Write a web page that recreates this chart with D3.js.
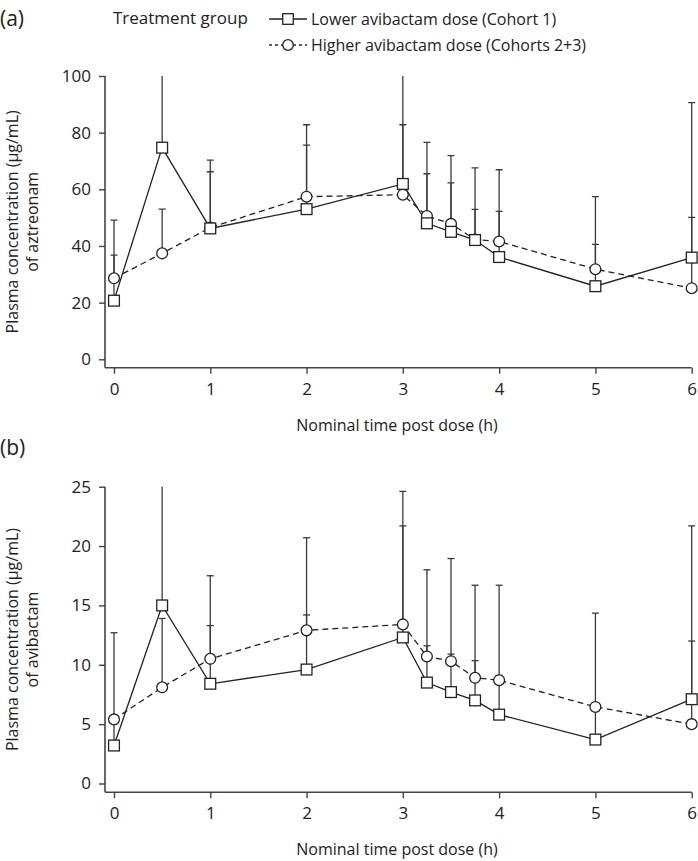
<!DOCTYPE html>
<html>
<head>
<meta charset="utf-8">
<script src="https://cdn.jsdelivr.net/npm/d3@7"></script>
<style>
  html, body { margin: 0; padding: 0; background: #fff; }
  svg text { font-family: "Open Sans", sans-serif; fill: #222; }
</style>
</head>
<body>
<svg id="chart"></svg>
<script>
// nominal sampling times (h)
const times = [0, 0.5, 1, 2, 3, 3.25, 3.5, 3.75, 4, 5, 6]
const xTicks = [0, 1, 2, 3, 4, 5, 6]

// (a) aztreonam, µg/mL — mean and mean+SD
const aztLowMean = [20.7, 74.7, 46.2, 53.0, 61.9, 48.0, 45.0, 42.1, 36.1, 25.8, 35.9]
const aztLowUpper = [49.1, 115, 70.3, 82.8, 115, 76.6, 71.9, 67.6, 66.9, 57.4, 90.6]
const aztHighMean = [28.6, 37.4, 46.5, 57.4, 58.1, 50.6, 47.8, 42.3, 41.6, 31.8, 25.1]
const aztHighUpper = [36.8, 53.0, 66.2, 75.6, 82.8, 65.5, 62.3, 52.9, 52.2, 40.6, 50.1]
const aztTicks = [0, 20, 40, 60, 80, 100]

// (b) avibactam, µg/mL — mean and mean+SD
const avbLowMean = [3.2, 15.0, 8.4, 9.6, 12.3, 8.5, 7.7, 7.0, 5.8, 3.7, 7.1]
const avbLowUpper = [12.7, 27, 17.5, 20.7, 24.6, 18.0, 18.95, 16.7, 16.7, 14.35, 21.7]
const avbHighMean = [5.4, 8.1, 10.5, 12.9, 13.4, 10.7, 10.3, 8.9, 8.7, 6.45, 5.0]
const avbHighUpper = [5.7, 13.9, 13.3, 14.2, 21.7, 11.6, 10.9, 10.35, 9.1, 6.8, 12.0]
const avbTicks = [0, 5, 10, 15, 20, 25]

const groupLabels = ["Lower avibactam dose (Cohort 1)", "Higher avibactam dose (Cohorts 2+3)"]

const W = 698
const H = 861
const ink = "#222"
const axisInk = "#444"

const svg = d3.select("#chart").attr("width", W).attr("height", H)

const x = d3.scaleLinear().domain([0, 6]).range([114, 691.7])
const axisLeftX = 105

// legend
svg.append("text").attr("x", 0).attr("y", 26).style("font-size", "21px").text("(a)")
svg.append("text").attr("x", 113).attr("y", 24).style("font-size", "17px").text("Treatment group")

const legend = svg.append("g")
groupLabels.forEach((label, i) => {
  const cy = 19 + i * 26
  legend.append("line")
    .attr("x1", 269).attr("x2", 307).attr("y1", cy).attr("y2", cy)
    .attr("stroke", ink).attr("stroke-width", 1.3)
    .attr("stroke-dasharray", i ? "3,3" : null)
  if (i) {
    legend.append("circle").attr("cx", 288).attr("cy", cy).attr("r", 5.3)
      .attr("fill", "#fff").attr("stroke", ink).attr("stroke-width", 1.3)
  } else {
    legend.append("rect").attr("x", 288 - 5.3).attr("y", cy - 5.3).attr("width", 10.6).attr("height", 10.6)
      .attr("fill", "#fff").attr("stroke", ink).attr("stroke-width", 1.3)
  }
  legend.append("text").attr("x", 311).attr("y", cy + 6).style("font-size", "16px").text(label)
})

/**
 * One panel: axes, lines, SD bars and markers
 */
function drawPanel(cfg) {
  const y = d3.scaleLinear().domain([0, cfg.ticks[cfg.ticks.length - 1]]).range(cfg.yRange)
  const g = svg.append("g")

  const clipId = "clip-" + cfg.id
  g.append("clipPath").attr("id", clipId)
    .append("rect")
    .attr("x", 0).attr("y", cfg.yRange[1])
    .attr("width", W).attr("height", cfg.axisY - cfg.yRange[1])

  // y axis
  const yAxis = g.append("g")
    .attr("transform", `translate(${axisLeftX},0)`)
    .call(d3.axisLeft(y).tickValues(cfg.ticks).tickFormat(d3.format("d")).tickSize(6).tickPadding(8).tickSizeOuter(0))
  yAxis.select(".domain").remove()
  yAxis.append("line").attr("y1", cfg.yRange[1]).attr("y2", cfg.axisY)
  // x axis
  const xAxis = g.append("g")
    .attr("transform", `translate(0,${cfg.axisY})`)
    .call(d3.axisBottom(x).tickValues(xTicks).tickFormat(d3.format("d")).tickSize(6).tickPadding(9).tickSizeOuter(0))
  xAxis.select(".domain").remove()
  xAxis.append("line").attr("x1", axisLeftX).attr("x2", x(6))

  g.selectAll(".tick line").attr("stroke", axisInk).attr("stroke-width", 1.4)
  yAxis.select(":scope > line").attr("stroke", axisInk).attr("stroke-width", 1.6)
  xAxis.select(":scope > line").attr("stroke", axisInk).attr("stroke-width", 1.6)
  g.selectAll(".tick text").style("font-size", "17px").attr("fill", ink)

  // axis titles
  const midY = (cfg.yRange[1] + cfg.axisY) / 2
  const yTitle = g.append("text")
    .attr("transform", `translate(18,${midY}) rotate(-90)`)
    .attr("text-anchor", "middle").style("font-size", "16px")
  yTitle.append("tspan").attr("x", 0).attr("dy", 0).text("Plasma concentration (µg/mL)")
  yTitle.append("tspan").attr("x", 0).attr("dy", 20).text(cfg.drug)

  g.append("text").attr("x", 397).attr("y", cfg.axisY + 63)
    .attr("text-anchor", "middle").style("font-size", "16px")
    .text("Nominal time post dose (h)")

  const series = [
    { mean: cfg.high, upper: cfg.highUpper, dash: "6,4", shape: "circle" },
    { mean: cfg.low, upper: cfg.lowUpper, dash: null, shape: "square" },
  ]

  const line = d3.line().x((d) => x(d.t)).y((d) => y(d.v))
  const plot = g.append("g").attr("clip-path", `url(#${clipId})`)

  series.forEach((s) => {
    const pts = times.map((t, i) => ({ t, v: s.mean[i] }))
    plot.append("path").datum(pts)
      .attr("d", line).attr("fill", "none")
      .attr("stroke", ink).attr("stroke-width", 1.3)
      .attr("stroke-dasharray", s.dash)
  })

  // SD bars, drawn upward only
  series.forEach((s) => {
    const bars = times.map((t, i) => ({ t, lo: s.mean[i], hi: s.upper[i] }))
    const eb = plot.append("g").attr("stroke", "#3a3a3a").attr("stroke-width", 1.3)
    eb.selectAll(".bar").data(bars).join("line")
      .attr("x1", (d) => x(d.t)).attr("x2", (d) => x(d.t))
      .attr("y1", (d) => y(d.lo)).attr("y2", (d) => y(d.hi))
    eb.selectAll(".cap").data(bars).join("line")
      .attr("x1", (d) => x(d.t) - 3.5).attr("x2", (d) => x(d.t) + 3.5)
      .attr("y1", (d) => y(d.hi)).attr("y2", (d) => y(d.hi))
  })

  series.forEach((s) => {
    const pts = times.map((t, i) => ({ t, v: s.mean[i] }))
    if (s.shape === "circle") {
      g.selectAll(null).data(pts).join("circle")
        .attr("cx", (d) => x(d.t)).attr("cy", (d) => y(d.v)).attr("r", 5.4)
        .attr("fill", "#fff").attr("stroke", ink).attr("stroke-width", 1.3)
    } else {
      g.selectAll(null).data(pts).join("rect")
        .attr("x", (d) => x(d.t) - 5.4).attr("y", (d) => y(d.v) - 5.4)
        .attr("width", 10.8).attr("height", 10.8)
        .attr("fill", "#fff").attr("stroke", ink).attr("stroke-width", 1.3)
    }
  })
}

drawPanel({
  id: "a", drug: "of aztreonam", ticks: aztTicks,
  yRange: [359.3, 76], axisY: 367.7,
  low: aztLowMean, lowUpper: aztLowUpper, high: aztHighMean, highUpper: aztHighUpper,
})

svg.append("text").attr("x", 0).attr("y", 455).style("font-size", "21px").text("(b)")

drawPanel({
  id: "b", drug: "of avibactam", ticks: avbTicks,
  yRange: [783.5, 486.7], axisY: 792.3,
  low: avbLowMean, lowUpper: avbLowUpper, high: avbHighMean, highUpper: avbHighUpper,
})
</script>
</body>
</html>
